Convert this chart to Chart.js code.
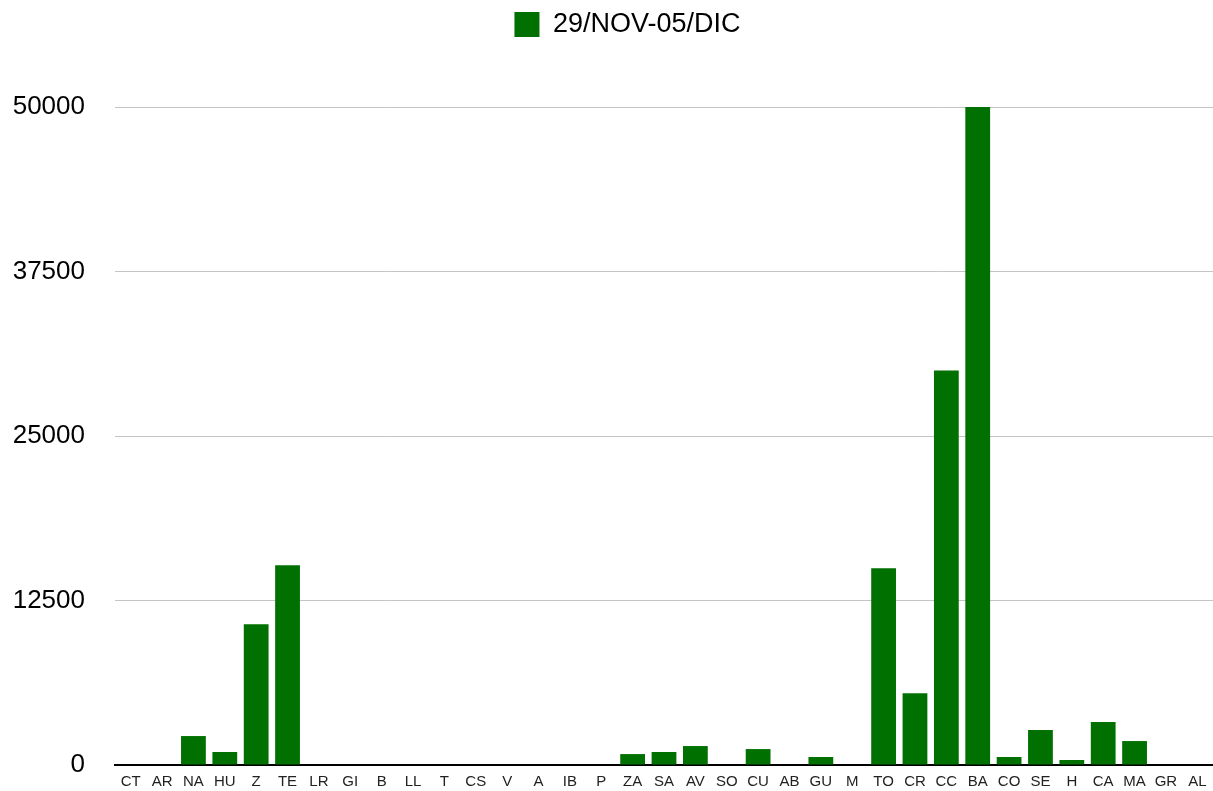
<!DOCTYPE html>
<html>
<head>
<meta charset="utf-8">
<script src="https://cdn.jsdelivr.net/npm/chart.js@4/dist/chart.umd.min.js"></script>
<style>
  html, body { margin: 0; padding: 0; background: #fff; }
  #wrap { width: 1213px; height: 791px; }
</style>
</head>
<body>
<div id="wrap"><canvas id="chart" width="1213" height="791"></canvas></div>
<script>
// provinces on the x axis
const provinces = ["CT", "AR", "NA", "HU", "Z", "TE", "LR", "GI", "B", "LL", "T", "CS", "V", "A", "IB", "P",
    "ZA", "SA", "AV", "SO", "CU", "AB", "GU", "M", "TO", "CR", "CC", "BA", "CO", "SE", "H", "CA", "MA", "GR", "AL"];

// one weekly series
const seriesLabel = "29/NOV-05/DIC";
const weekValues = [0, 0, 2200, 990, 10700, 15170, 0, 0, 0, 0, 0, 0, 0, 0, 0, 0,
    830, 990, 1440, 0, 1210, 0, 610, 0, 14950, 5460, 29970, 50000, 610, 2660, 380, 3260, 1820, 0, 0];

const yTicks = [0, 12500, 25000, 37500, 50000];

const green = "#007000";
const fontFamily = "'Liberation Sans', Arial, Helvetica, sans-serif";

// extra room under the legend, and nudge it a little to the right
const legendTweak = {
    id: "legendTweak",
    beforeInit(chart) {
        const fit = chart.legend.fit;
        chart.legend.fit = function () {
            fit.bind(chart.legend)();
            this.height += 59;
        };
    },
    afterLayout(chart) {
        chart.legend.left += 15;
        chart.legend.right += 15;
    }
};

new Chart(document.getElementById("chart"), {
    type: "bar",
    data: {
        labels: provinces,
        datasets: [{
            label: seriesLabel,
            data: weekValues,
            backgroundColor: green,
            borderWidth: 0,
            categoryPercentage: 0.79,
            barPercentage: 1
        }]
    },
    options: {
        responsive: false,
        animation: false,
        layout: { padding: { top: 5, left: 12, right: 0, bottom: 0 } },
        plugins: {
            legend: {
                display: true,
                position: "top",
                labels: {
                    boxWidth: 25,
                    boxHeight: 25,
                    padding: 6,
                    color: "#000",
                    font: { family: fontFamily, size: 27 }
                }
            },
            tooltip: { enabled: false }
        },
        scales: {
            x: {
                grid: { display: false },
                border: { display: true, color: "#000", width: 2 },
                afterFit(axis) { axis.height = 26; },
                ticks: {
                    color: "#222",
                    autoSkip: false,
                    maxRotation: 0,
                    padding: 0,
                    font: { family: fontFamily, size: 15 }
                }
            },
            y: {
                min: 0,
                max: 50000,
                afterBuildTicks(axis) {
                    axis.ticks = yTicks.map(v => ({ value: v }));
                },
                afterFit(axis) {
                    axis.width = 103;
                    // tick padding should not eat vertical space
                    axis.paddingTop = 15;
                    axis.paddingBottom = 15;
                },
                border: { display: false },
                grid: {
                    drawTicks: false,
                    color: ctx => ctx.tick && ctx.tick.value === 0 ? "rgba(0,0,0,0)" : "#c4c4c4",
                    lineWidth: 1
                },
                ticks: {
                    color: "#000",
                    padding: 30,
                    font: { family: fontFamily, size: 26 },
                    callback: v => String(v)
                }
            }
        }
    },
    plugins: [legendTweak]
});
</script>
</body>
</html>
